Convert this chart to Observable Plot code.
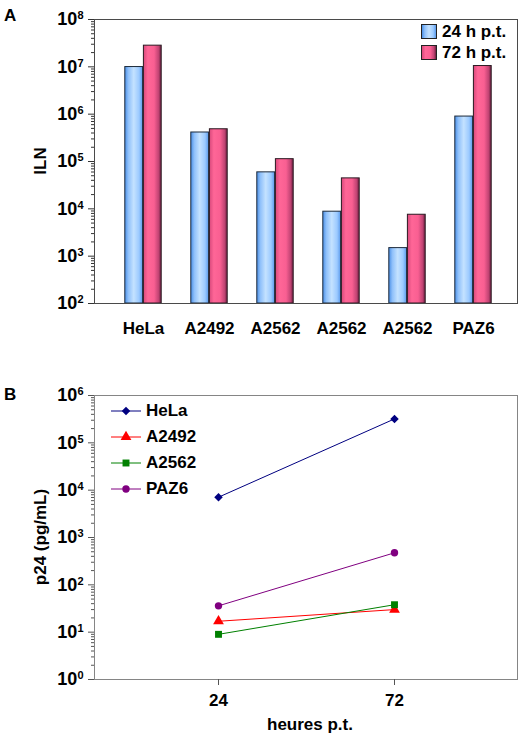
<!DOCTYPE html>
<html><head><meta charset="utf-8">
<script src="https://cdn.jsdelivr.net/npm/d3@7"></script>
<script src="https://cdn.jsdelivr.net/npm/@observablehq/plot@0.6"></script>
<style>
body{margin:0;background:#fff;}
#chart{position:relative;width:526px;height:752px;font-family:"Liberation Sans",Arial,sans-serif;font-weight:bold;color:#000;overflow:hidden;}
#chart svg{position:absolute;left:0;}
.abs{position:absolute;white-space:nowrap;font-size:17px;}
.row{position:absolute;display:flex;align-items:center;white-space:nowrap;font-size:17px;}
</style></head><body><div id="chart"></div>
<script>
// ---------- Panel A data ----------
const cellLinesA = ["HeLa", "A2492", "A2562", "A2562", "A2562", "PAZ6"];
const iln24 = [9.9e6, 4.1e5, 5.9e4, 8.7e3, 1.48e3, 8.9e5];
const iln72 = [2.8e7, 4.8e5, 1.12e5, 4.4e4, 7.5e3, 1.04e7];
const seriesA = ["24 h p.t.", "72 h p.t."];
const yTicksA = [1e2, 1e3, 1e4, 1e5, 1e6, 1e7, 1e8];

// ---------- Panel B data ----------
const hours = [24, 72];
const seriesB = ["HeLa", "A2492", "A2562", "PAZ6"];
const p24HeLa = [7.1e3, 3.2e5];
const p24A2492 = [17, 30];
const p24A2562 = [9, 38];
const p24PAZ6 = [36, 475];
const yTicksB = [1e0, 1e1, 1e2, 1e3, 1e4, 1e5, 1e6];

// ---------- styles ----------
const FONT = '"Liberation Sans", Arial, sans-serif';
const colorsB = ["#000080", "#ff0000", "#008000", "#800080"];
const squareDiamond = {
  draw(ctx, size) {
    const r = Math.sqrt(size / 2);
    ctx.moveTo(0, -r); ctx.lineTo(r, 0); ctx.lineTo(0, r); ctx.lineTo(-r, 0); ctx.closePath();
  }
};
const symbolsB = [squareDiamond, d3.symbolTriangle, d3.symbolSquare, d3.symbolCircle];
const symbolRadiusB = [3.4, 4.0, 3.9, 3.7];

function minorTicks(lo, hi) {
  const out = [];
  for (let e = lo; e < hi; e++) for (let m = 2; m <= 9; m++) out.push(m * Math.pow(10, e));
  return out;
}
function supFix(svg) {
  d3.select(svg).selectAll("text").each(function () {
    const t = this.textContent;
    if (t.includes("^")) {
      const [b, e] = t.split("^");
      this.textContent = b;
      d3.select(this).append("tspan").attr("dy", "-0.55em").attr("font-size", "11px").text(e);
    }
  });
}
const expFmt = d => "10^" + Math.round(Math.log10(d));

const chart = document.getElementById("chart");

// ---------- Panel A ----------
const rowsA = [];
cellLinesA.forEach((c, i) => {
  rowsA.push({g: i, s: 0, v: iln24[i]});
  rowsA.push({g: i, s: 1, v: iln72[i]});
});
const rangeA = [108.1, 508.9];
const stepA = (rangeA[1] - rangeA[0]) / cellLinesA.length;
const barW = 18.6;

const blueStops = [[0, "#4a8fe6"], [0.2, "#8fc0fa"], [0.5, "#c4e2ff"], [0.8, "#9ccaff"], [1, "#5a9aec"]];
const pinkStops = [[0, "#d8497c"], [0.25, "#ff6697"], [0.6, "#f95f92"], [0.85, "#c24474"], [1, "#6e2040"]];

const defsMark = () => {
  const defs = d3.create("svg:defs");
  [["gBlue", blueStops], ["gPink", pinkStops]].forEach(([id, stops]) => {
    const g = defs.append("linearGradient").attr("id", id).attr("x1", 0).attr("x2", 1).attr("y1", 0).attr("y2", 0);
    stops.forEach(([o, c]) => g.append("stop").attr("offset", o).attr("stop-color", c));
  });
  return defs.node();
};

const plotA = Plot.plot({
  width: 526, height: 340,
  marginLeft: 94, marginRight: 9, marginTop: 19, marginBottom: 37,
  style: {fontFamily: FONT, fontSize: "17px", fontWeight: "bold", color: "#000", background: "transparent", overflow: "visible"},
  x: {type: "band", domain: d3.range(cellLinesA.length), range: rangeA, padding: 0, label: null},
  y: {type: "log", domain: [1e2, 1e8], label: null},
  marks: [
    defsMark,
    Plot.barY(rowsA.filter(d => d.s === 0), {x: "g", y1: 1e2, y2: "v", fill: "url(#gBlue)", stroke: "#1d2a3a", strokeWidth: 1,
      insetLeft: stepA / 2 - barW, insetRight: stepA / 2}),
    Plot.barY(rowsA.filter(d => d.s === 1), {x: "g", y1: 1e2, y2: "v", fill: "url(#gPink)", stroke: "#2a1a22", strokeWidth: 1,
      insetLeft: stepA / 2, insetRight: stepA / 2 - barW}),
    Plot.frame({stroke: "#4a4a4a"}),
    Plot.axisY({ticks: minorTicks(2, 8), tickSize: 3, tickFormat: null, label: null, stroke: "#333"}),
    Plot.axisY({ticks: yTicksA, tickSize: 6, tickPadding: 5, tickFormat: expFmt, label: null, stroke: "#333", fontSize: 18}),
    Plot.axisX({tickSize: 0, tickPadding: 18, tickFormat: i => cellLinesA[i], label: null})
  ]
});
supFix(plotA);
plotA.style.top = "0px";
chart.appendChild(plotA);

// ---------- Panel B ----------
const valuesB = [p24HeLa, p24A2492, p24A2562, p24PAZ6];
const rowsB = seriesB.map((s, k) => hours.map((h, j) => ({s, h, v: valuesB[k][j]})));

const plotB = Plot.plot({
  width: 526, height: 412,
  marginLeft: 94, marginRight: 9, marginTop: 55, marginBottom: 73,
  style: {fontFamily: FONT, fontSize: "17px", fontWeight: "bold", color: "#000", background: "transparent", overflow: "visible"},
  x: {type: "point", domain: hours, padding: 0.7, label: null},
  y: {type: "log", domain: [1e0, 1e6], label: null},
  marks: [
    Plot.frame({stroke: "#858585"}),
    ...rowsB.map((rows, k) => Plot.line(rows, {x: "h", y: "v", stroke: colorsB[k], strokeWidth: 1})),
    ...rowsB.map((rows, k) => Plot.dot(rows, {x: "h", y: "v", fill: colorsB[k], stroke: "none", symbol: symbolsB[k], r: symbolRadiusB[k]})),
    Plot.axisY({ticks: minorTicks(0, 6), tickSize: 3, tickFormat: null, label: null, stroke: "#555"}),
    Plot.axisY({ticks: yTicksB, tickSize: 6, tickPadding: 5, tickFormat: expFmt, label: null, stroke: "#555", fontSize: 18}),
    Plot.axisX({ticks: hours, tickSize: 6, tickPadding: 8, label: null, stroke: "#555"})
  ]
});
supFix(plotB);
plotB.style.top = "340px";
chart.appendChild(plotB);

// ---------- Overlays: panel letters, axis titles, legends ----------
function addText(txt, left, top, extra) {
  const d = document.createElement("div");
  d.className = "abs";
  d.textContent = txt;
  d.style.left = left + "px";
  d.style.top = top + "px";
  if (extra) Object.assign(d.style, extra);
  chart.appendChild(d);
  return d;
}
addText("A", 4, 6);
addText("B", 4, 385);
addText("ILN", 41, 161, {transform: "translate(-50%,-50%) rotate(-90deg)"});
addText("p24 (pg/mL)", 41, 537, {transform: "translate(-50%,-50%) rotate(-90deg)"});
addText("heures p.t.", 310, 725, {transform: "translate(-50%,-50%)"});

// legend A
const legendTopsA = [24, 45];
const cssGrad = stops => "linear-gradient(to right," + stops.map(([o, c]) => c + " " + (o * 100) + "%").join(",") + ")";
seriesA.forEach((s, k) => {
  const row = document.createElement("div");
  row.className = "row";
  row.style.left = "421px";
  row.style.top = legendTopsA[k] + "px";
  row.style.height = "15px";
  const box = document.createElement("div");
  box.style.width = "14px";
  box.style.height = "13px";
  box.style.border = "1px solid #222";
  box.style.background = cssGrad(k === 0 ? blueStops : pinkStops);
  const lab = document.createElement("span");
  lab.textContent = s;
  lab.style.marginLeft = "5px";
  lab.style.lineHeight = "15px";
  row.appendChild(box);
  row.appendChild(lab);
  chart.appendChild(row);
});

// legend B
const legendCentersB = [411, 437, 463, 489];
seriesB.forEach((s, k) => {
  const row = document.createElement("div");
  row.className = "row";
  row.style.left = "111px";
  row.style.top = (legendCentersB[k] - 8) + "px";
  row.style.height = "16px";
  const sw = d3.create("svg").attr("width", 30).attr("height", 16).style("position", "static").style("overflow", "visible");
  sw.append("line").attr("x1", 0).attr("x2", 30).attr("y1", 8).attr("y2", 8).attr("stroke", colorsB[k]).attr("stroke-width", 1);
  const rr = symbolRadiusB[k];
  sw.append("path").attr("transform", "translate(15,8)").attr("fill", colorsB[k])
    .attr("d", d3.symbol(symbolsB[k], Math.PI * rr * rr)());
  const lab = document.createElement("span");
  lab.textContent = s;
  lab.style.marginLeft = "5px";
  lab.style.lineHeight = "16px";
  row.appendChild(sw.node());
  row.appendChild(lab);
  chart.appendChild(row);
});
</script>
</body></html>
